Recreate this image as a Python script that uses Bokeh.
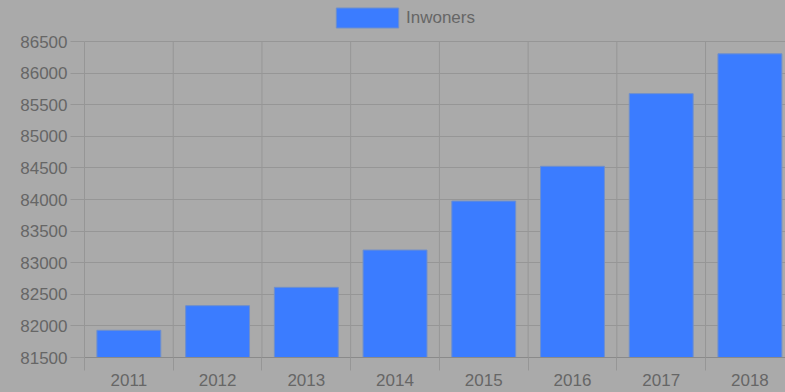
from bokeh.plotting import figure
from bokeh.models import (ColumnDataSource, Range1d, FixedTicker, Legend, LegendItem,
                          GlobalInlineStyleSheet)
from bokeh.embed import file_html
from bokeh.resources import INLINE

years = ["2011", "2012", "2013", "2014", "2015", "2016", "2017", "2018"]
inwoners = [81930, 82320, 82610, 83200, 83975, 84525, 85675, 86305]
series_name = "Inwoners"
y_ticks = [81500, 82000, 82500, 83000, 83500, 84000, 84500, 85000, 85500, 86000, 86500]

BG = "#aaaaaa"
GRID = "#969696"
TEXT = "#666666"
BAR = "#3b7cff"

idx = list(range(len(years)))
src = ColumnDataSource(dict(x=idx, top=inwoners, year=years))

# headroom above the top tick (for the legend), in data units
y_lo, y_hi = y_ticks[0], y_ticks[-1]
y_top = y_hi + (y_hi - y_lo) * 41 / 316

p = figure(width=785, height=392, output_backend="svg", toolbar_location=None,
           x_range=Range1d(-0.5, 7.401), y_range=Range1d(y_lo, y_top),
           min_border_left=84, min_border_right=0, min_border_top=0, min_border_bottom=35)
p.background_fill_color = BG
p.border_fill_color = BG
p.outline_line_color = None
p.stylesheets = [GlobalInlineStyleSheet(css="html, body { background: %s; }" % BG)]

# vertical category separators (grid), limited to the tick span
boundaries = [i - 0.5 for i in range(len(years) + 1)]
p.segment(x0=boundaries, x1=boundaries, y0=[y_lo] * len(boundaries), y1=[y_hi] * len(boundaries),
          line_color=GRID, line_width=1, level="underlay")

r = p.vbar(x="x", top="top", bottom=y_lo, width=0.72, source=src,
           fill_color=BAR, line_color="#6f8fcc", line_width=1)

p.xaxis.ticker = FixedTicker(ticks=idx, minor_ticks=boundaries)
p.xaxis.major_label_overrides = {i: y for i, y in enumerate(years)}
p.xaxis.major_tick_out = 0
p.xaxis.major_tick_in = 0
p.xaxis.minor_tick_out = 13
p.xaxis.minor_tick_in = 0
p.xaxis.minor_tick_line_color = GRID
p.xaxis.major_label_standoff = 3
p.xaxis.axis_line_color = "#8a8a8a"

p.yaxis.ticker = FixedTicker(ticks=y_ticks)
p.yaxis.bounds = (y_lo, y_hi)
p.yaxis.major_tick_out = 14
p.yaxis.major_tick_in = 0
p.yaxis.minor_tick_line_color = None
p.yaxis.major_tick_line_color = GRID
p.yaxis.major_label_standoff = 3
p.yaxis.axis_line_color = GRID

for ax in (p.xaxis, p.yaxis):
    ax.major_label_text_font = "Liberation Sans"
    ax.major_label_text_font_size = "17px"
    ax.major_label_text_color = TEXT

p.xgrid.visible = False
p.ygrid.ticker = FixedTicker(ticks=y_ticks)
p.ygrid.grid_line_color = GRID

legend = Legend(items=[LegendItem(label=series_name, renderers=[r])],
                location=(244, 327), orientation="horizontal",
                glyph_width=78, glyph_height=25, label_height=25, label_standoff=0,
                padding=0, margin=0, spacing=0,
                background_fill_alpha=0, border_line_alpha=0,
                label_text_font="Liberation Sans", label_text_font_size="17px",
                label_text_color=TEXT)
p.add_layout(legend, "center")

open("out.html", "w").write(file_html(p, INLINE))
